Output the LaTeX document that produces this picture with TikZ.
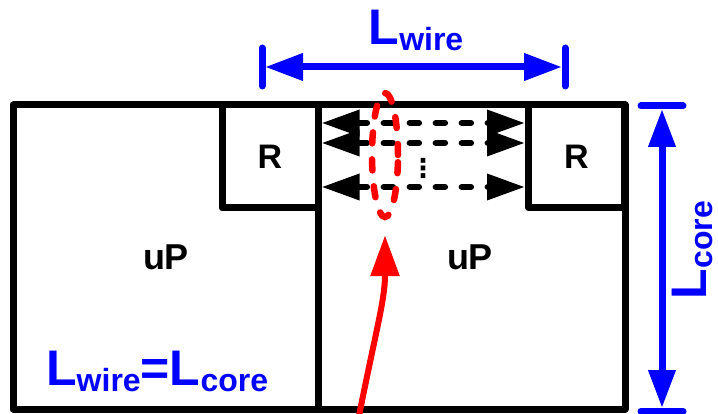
\documentclass[tikz,border=0pt]{standalone}
\usepackage{fontspec}
\setmainfont{Liberation Sans}
\newfontfamily\symfont{DejaVu Sans}
\usetikzlibrary{arrows.meta, shapes.geometric}
\newcommand{\Lsub}[1]{{\fontsize{50}{50}\selectfont L}{\fontsize{32}{32}\selectfont\raisebox{-6pt}{#1}}}

\begin{document}
\begin{tikzpicture}[x=1pt, y=-1pt,
    wall/.style={draw=black, line width=7pt, line join=round},
    router/.style={wall, rectangle, minimum width=96pt, minimum height=103pt, inner sep=0pt, font=\fontsize{34}{34}\selectfont\bfseries},
    core/.style={font=\fontsize{36}{36}\selectfont\bfseries},
    link/.style={line width=6.5pt, dash pattern=on 9pt off 17pt, line cap=round, {Triangle[length=38pt,width=25pt]}-{Triangle[length=38pt,width=25pt]}},
    dim/.style={blue, line width=7pt, {Triangle[length=38pt,width=26pt]}-{Triangle[length=38pt,width=26pt]}},
    bar/.style={blue, line width=7pt, line cap=round},
    dimtext/.style={blue, font=\bfseries, inner sep=0pt},
    probe/.style={draw=red, line width=6.5pt, dash pattern=on 11pt off 16pt, line cap=round},
    pointer/.style={red, line width=6pt, -{Triangle[length=41pt,width=28pt]}}]
    \useasboundingbox (0,0) rectangle (718,414);

    % Deux coeurs (uP) cote a cote
    \draw [wall] (13,105) rectangle (625,409);
    \draw [wall] (318,105) -- (318,409);
    \node [core, anchor=base] (upl) at (166,270) {uP};
    \node [core, anchor=base] (upr) at (470,270) {uP};

    % Routeurs (R)
    \node [router] (rl) at (270,156.5) {R};
    \node [router] (rr) at (576.5,156.5) {R};

    % Liens entre routeurs
    \foreach \row in {123,143,187}
        \draw [link] (rl.east |- 0,\row) -- (rr.west |- 0,\row);
    \node [font=\symfont\bfseries\fontsize{26}{26}\selectfont] (dots) at (423,168) {⋮};

    % Bus (rouge)
    \node [probe, ellipse, inner sep=0pt, minimum width=26pt, minimum height=124pt] (bus) at (385,155) {};
    \coordinate (src) at (359,416);
    \draw [pointer] (src) .. controls (376,330) and (385,300) .. ([yshift=-15pt]bus.south);

    % L_wire (haut)
    \coordinate (wl) at (262,67);
    \coordinate (wr) at (565,67);
    \draw [bar] ([yshift=19pt]wl) -- ([yshift=-19pt]wl);
    \draw [bar] ([yshift=19pt]wr) -- ([yshift=-19pt]wr);
    \draw [dim, shorten <=3pt, shorten >=3pt] (wl) -- (wr);
    \node [dimtext, anchor=base] (lw) at (416,45) {\Lsub{wire}};

    % L_core (droite)
    \coordinate (ct) at (662,106);
    \coordinate (cb) at (662,411);
    \draw [bar] ([xshift=-21pt]ct) -- ([xshift=21pt]ct);
    \draw [bar] ([xshift=-21pt]cb) -- ([xshift=21pt]cb);
    \draw [dim, shorten <=3pt, shorten >=3pt] (ct) -- (cb);
    \node [dimtext, rotate=90, anchor=base] (lc) at (706,250) {\Lsub{core}};

    % Egalite
    \node [dimtext, anchor=base west] (eq) at (46,385) {\Lsub{wire}{\fontsize{50}{50}\selectfont=}\Lsub{core}};
\end{tikzpicture}
\end{document}
